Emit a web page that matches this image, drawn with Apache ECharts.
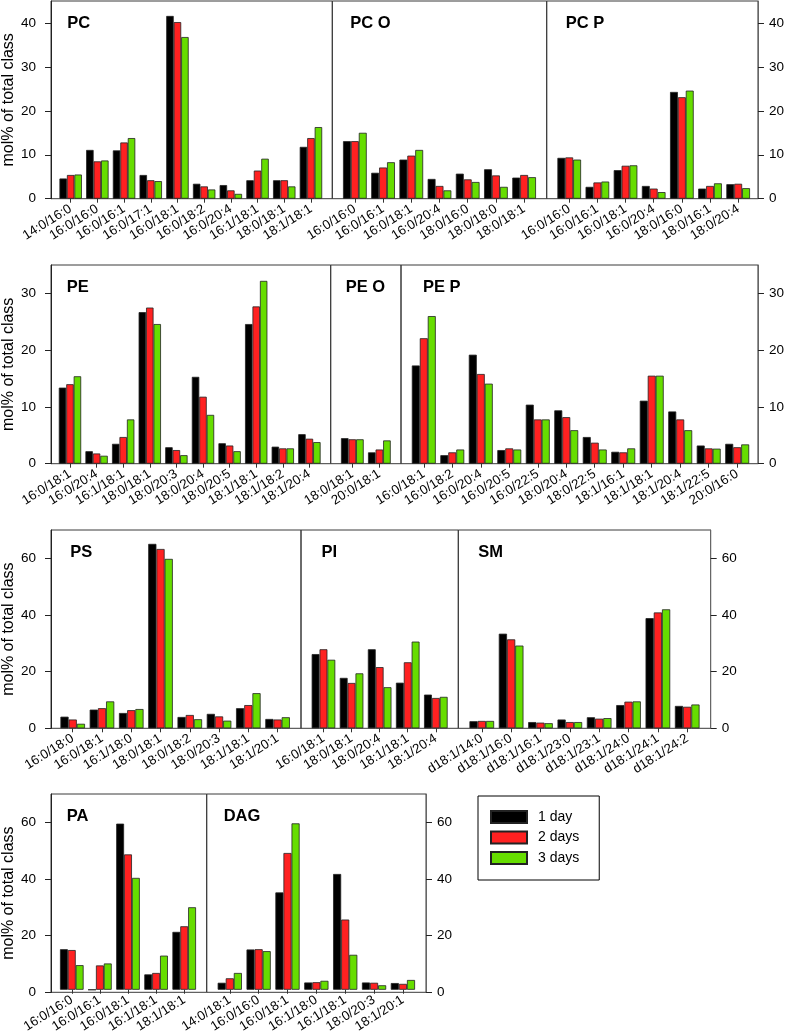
<!DOCTYPE html>
<html>
<head>
<meta charset="utf-8">
<script src="https://cdn.jsdelivr.net/npm/echarts@6/dist/echarts.min.js"></script>
<style>html,body{margin:0;padding:0;background:#fff}#chart{width:787px;height:1035px}</style>
</head>
<body>
<div id="chart"></div>
<script>
// ---------- DATA ----------
const seriesNames = ['1 day', '2 days', '3 days'];

const pcCats = ['14:0/16:0','16:0/16:0','16:0/16:1','16:0/17:1','16:0/18:1','16:0/18:2','16:0/20:4','16:1/18:1','18:0/18:1','18:1/18:1'];
const pcDay1 = [4.6, 11.1, 11.0, 5.4, 41.6, 3.4, 3.1, 4.2, 4.2, 11.8];
const pcDay2 = [5.4, 8.5, 12.8, 4.2, 40.2, 2.8, 1.9, 6.4, 4.2, 13.8];
const pcDay3 = [5.5, 8.7, 13.8, 4.0, 36.8, 2.1, 1.1, 9.1, 2.8, 16.3];

const pcoCats = ['16:0/16:0','16:0/16:1','16:0/18:1','16:0/20:4','18:0/16:0','18:0/18:0','18:0/18:1'];
const pcoDay1 = [13.1, 5.9, 8.9, 4.5, 5.7, 6.7, 4.8];
const pcoDay2 = [13.1, 7.1, 9.8, 2.9, 4.4, 5.3, 5.4];
const pcoDay3 = [15.0, 8.3, 11.1, 1.9, 3.8, 2.7, 4.9];

const pcpCats = ['16:0/16:0','16:0/16:1','16:0/18:1','16:0/20:4','18:0/16:0','18:0/16:1','18:0/20:4'];
const pcpDay1 = [9.3, 2.7, 6.5, 2.9, 24.3, 2.3, 3.3];
const pcpDay2 = [9.4, 3.7, 7.5, 2.3, 23.1, 2.9, 3.4];
const pcpDay3 = [8.9, 3.9, 7.6, 1.5, 24.6, 3.5, 2.4];

const peCats = ['16:0/18:1','16:0/20:4','16:1/18:1','18:0/18:1','18:0/20:3','18:0/20:4','18:0/20:5','18:1/18:1','18:1/18:2','18:1/20:4'];
const peDay1 = [13.4, 2.2, 3.5, 26.7, 2.9, 15.3, 3.6, 24.6, 3.0, 5.2];
const peDay2 = [14.0, 1.8, 4.7, 27.5, 2.4, 11.8, 3.2, 27.7, 2.7, 4.4];
const peDay3 = [15.4, 1.4, 7.8, 24.6, 1.5, 8.6, 2.2, 32.2, 2.7, 3.8];

const peoCats = ['18:0/18:1','20:0/18:1'];
const peoDay1 = [4.5, 2.0];
const peoDay2 = [4.3, 2.5];
const peoDay3 = [4.3, 4.1];

const pepCats = ['16:0/18:1','16:0/18:2','16:0/20:4','16:0/20:5','16:0/22:5','18:0/20:4','18:0/22:5','18:1/16:1','18:1/18:1','18:1/20:4','18:1/22:5','20:0/16:0'];
const pepDay1 = [17.3, 1.5, 19.2, 2.4, 10.4, 9.4, 4.7, 2.1, 11.1, 9.2, 3.2, 3.5];
const pepDay2 = [22.1, 2.0, 15.8, 2.7, 7.8, 8.2, 3.7, 2.0, 15.5, 7.8, 2.7, 2.9];
const pepDay3 = [26.0, 2.5, 14.1, 2.5, 7.8, 5.9, 2.5, 2.7, 15.5, 5.9, 2.65, 3.4];

const psCats = ['16:0/18:0','16:0/18:1','16:1/18:0','18:0/18:1','18:0/18:2','18:0/20:3','18:1/18:1','18:1/20:1'];
const psDay1 = [4.1, 6.6, 5.4, 65.1, 4.0, 5.1, 7.1, 3.3];
const psDay2 = [3.1, 7.1, 6.4, 63.3, 4.7, 4.2, 8.2, 3.1];
const psDay3 = [1.6, 9.5, 6.8, 59.8, 3.2, 2.7, 12.4, 3.9];

const piCats = ['16:0/18:1','18:0/18:1','18:0/20:4','18:1/18:1','18:1/20:4'];
const piDay1 = [26.2, 17.8, 27.9, 16.1, 11.9];
const piDay2 = [27.9, 16.0, 21.6, 23.3, 10.7];
const piDay3 = [24.2, 19.4, 14.5, 30.6, 11.1];

const smCats = ['d18:1/14:0','d18:1/16:0','d18:1/16:1','d18:1/23:0','d18:1/23:1','d18:1/24:0','d18:1/24:1','d18:1/24:2'];
const smDay1 = [2.5, 33.4, 2.2, 3.1, 3.9, 8.2, 38.9, 7.9];
const smDay2 = [2.6, 31.4, 2.0, 2.2, 3.4, 9.4, 40.9, 7.6];
const smDay3 = [2.6, 29.2, 1.8, 2.2, 3.6, 9.5, 42.0, 8.4];

const paCats = ['16:0/16:0','16:0/16:1','16:0/18:1','16:1/18:1','18:1/18:1'];
const paDay1 = [14.5, 0, 59.4, 5.5, 20.7];
const paDay2 = [14.2, 8.7, 48.4, 6.0, 22.7];
const paDay3 = [8.8, 9.4, 40.0, 12.2, 29.5];

const dagCats = ['14:0/18:1','16:0/16:0','16:0/18:1','16:1/18:0','16:1/18:1','18:0/20:3','18:1/20:1'];
const dagDay1 = [2.5, 14.4, 34.8, 2.6, 41.4, 2.6, 2.4];
const dagDay2 = [4.1, 14.5, 48.9, 2.7, 25.1, 2.5, 2.1];
const dagDay3 = [6.0, 13.8, 59.5, 3.2, 12.5, 1.6, 3.5];

const tickLabels45 = [0, 10, 20, 30, 40];
const tickLabels35 = [0, 10, 20, 30];
const tickLabels70 = [0, 20, 40, 60];

// ---------- LAYOUT ----------
const colors = ['#000000', '#ff2121', '#66dd00'];
const FONT = 'Liberation Sans, Arial, Helvetica, sans-serif';

const rows = [
  { top: 1, bottom: 198.7, max: 45, ticks: tickLabels45, edges: [49.3, 332.3, 546.7, 760.7],
    panels: [['PC', pcCats, [pcDay1, pcDay2, pcDay3], 18], ['PC O', pcoCats, [pcoDay1, pcoDay2, pcoDay3], 18], ['PC P', pcpCats, [pcpDay1, pcpDay2, pcpDay3], 19]] },
  { top: 265, bottom: 463.7, max: 35, ticks: tickLabels35, edges: [48.7, 330.7, 401, 760],
    panels: [['PE', peCats, [peDay1, peDay2, peDay3], 18], ['PE O', peoCats, [peoDay1, peoDay2, peoDay3], 15], ['PE P', pepCats, [pepDay1, pepDay2, pepDay3], 22]] },
  { top: 530, bottom: 728.3, max: 70, ticks: tickLabels70, edges: [49.3, 301, 458.3, 710.7],
    panels: [['PS', psCats, [psDay1, psDay2, psDay3], 21], ['PI', piCats, [piDay1, piDay2, piDay3], 20.5], ['SM', smCats, [smDay1, smDay2, smDay3], 20]] },
  { top: 794, bottom: 992.3, max: 70, ticks: tickLabels70, edges: [49.3, 206.7, 426],
    panels: [['PA', paCats, [paDay1, paDay2, paDay3], 17.5], ['DAG', dagCats, [dagDay1, dagDay2, dagDay3], 17]] }
];

const grid = [], xAxis = [], yAxis = [], series = [], title = [];

rows.forEach(row => {
  const h = row.bottom - row.top;
  const np = row.panels.length;
  row.panels.forEach((p, pi) => {
    const [name, cats, vals, tOff] = p;
    const x0 = row.edges[pi], x1 = row.edges[pi + 1];
    const n = cats.length;
    const isFirst = pi === 0, isLast = pi === np - 1;
    // frame grid
    const fg = grid.length;
    grid.push({ left: x0, top: row.top, width: x1 - x0, height: h, show: true,
      borderColor: '#3a3a3a', borderWidth: 1, backgroundColor: 'transparent' });
    xAxis.push({ type: 'category', gridIndex: fg, show: false, data: [''] });
    yAxis.push({
      type: 'value', gridIndex: fg, min: 0, max: row.max,
      show: isFirst || isLast, position: isFirst ? 'left' : 'right',
      splitLine: { show: false },
      axisLine: { show: true, lineStyle: { color: isFirst ? '#222' : '#666', width: 1 } },
      axisTick: { show: true, inside: false, length: 6, customValues: row.ticks, lineStyle: { color: '#222' } },
      axisLabel: { show: true, customValues: row.ticks, margin: isFirst ? 15 : 11, fontSize: 13.5, color: '#000', fontFamily: FONT },
      name: isFirst ? 'mol% of total class' : '',
      nameLocation: 'middle', nameGap: 34,
      nameTextStyle: { fontSize: 16, color: '#000', fontFamily: FONT }
    });
    // inner bar grid
    const band = (x1 - x0) / (n + 0.6);
    const ig = grid.length;
    grid.push({ left: x0 + 0.3 * band, top: row.top, width: n * band, height: h, show: false });
    xAxis.push({
      type: 'category', gridIndex: ig, data: cats,
      axisLine: { show: false },
      axisTick: { show: true, alignWithLabel: true, length: 4, lineStyle: { color: '#333' } },
      axisLabel: { interval: 0, rotate: 32, fontSize: 13.2, margin: 9, color: '#000', fontFamily: FONT }
    });
    yAxis.push({ type: 'value', gridIndex: ig, min: 0, max: row.max, show: false });
    vals.forEach((v, si) => {
      series.push({
        type: 'bar', name: seriesNames[si], xAxisIndex: ig, yAxisIndex: ig, data: v,
        barGap: '0%', barCategoryGap: '16%',
        itemStyle: { color: colors[si], borderColor: '#222', borderWidth: 0.8 },
        silent: true
      });
    });
    title.push({ text: name, left: x0 + tOff, top: row.top + 14, padding: 0,
      textStyle: { fontSize: 16.5, fontWeight: 'bold', color: '#000', fontFamily: FONT } });
  });
});

const chart = echarts.init(document.getElementById('chart'), null, { renderer: 'canvas' });
chart.setOption({
  animation: false,
  backgroundColor: '#fff',
  textStyle: { fontFamily: FONT },
  title: title,
  grid: grid, xAxis: xAxis, yAxis: yAxis, series: series,
  legend: {
    data: seriesNames, orient: 'vertical', left: 478, top: 796,
    itemWidth: 36, itemHeight: 12, itemGap: 6.5,
    padding: [14, 20, 15, 12], borderColor: '#000', borderWidth: 1,
    icon: 'rect', selectedMode: false,
    textStyle: { fontSize: 14, color: '#000', fontFamily: FONT, padding: [0, 0, 0, 6] }
  }
});
</script>
</body>
</html>
